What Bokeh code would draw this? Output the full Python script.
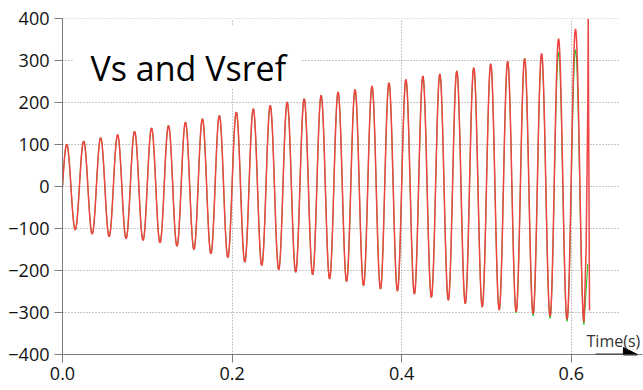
import numpy as np
from bokeh.plotting import figure
from bokeh.models import FixedTicker, Arrow, NormalHead, Label, NumeralTickFormatter
from bokeh.embed import file_html
from bokeh.resources import INLINE

# ---------------- data ----------------
PERIOD = 0.02  # 50 Hz waveform

# positive peak of each cycle (V)
vs_peaks = [100, 108, 116, 123, 131, 139, 145, 153, 161, 169,
            177, 185, 193, 201, 209, 217, 225, 231, 239, 247,
            255, 263, 268, 275, 283, 292, 298, 305, 317, 352, 375]
# negative peak of each cycle (V)
vs_troughs = [-103, -113, -119, -124, -128, -134, -142, -150, -160, -169,
              -180, -188, -198, -204, -210, -220, -226, -236, -244, -249,
              -256, -264, -271, -279, -287, -294, -298, -303, -309, -316, -323]
# final unstable spike of Vs
vs_tail_t = [0.615, 0.6175, 0.6195, 0.6200, 0.6215]
vs_tail_v = [-323, -150, 190, 400, -295]

vsref_peaks = [100, 108, 116, 123, 131, 139, 145, 153, 161, 169,
               177, 185, 193, 201, 209, 217, 225, 231, 239, 247,
               255, 263, 268, 275, 283, 292, 298, 305, 312, 319, 326]
vsref_troughs = [-103, -113, -119, -124, -128, -134, -142, -150, -160, -169,
                 -180, -188, -198, -204, -210, -220, -226, -236, -244, -249,
                 -256, -264, -271, -279, -287, -294, -301, -308, -314, -321, -329]
vsref_tail_t = [0.615, 0.6195]
vsref_tail_v = [-329, -184]

x_ticks = [0.0, 0.2, 0.4, 0.6]
y_ticks = [-400, -300, -200, -100, 0, 100, 200, 300, 400]
title_text = "Vs and Vsref"
x_label = "Time(s)"


def extrema(peaks, troughs):
    t, v = [0.0], [0.0]
    for k, (pk, tr) in enumerate(zip(peaks, troughs)):
        t += [PERIOD * (k + 0.25), PERIOD * (k + 0.75)]
        v += [pk, tr]
    return t, v


def wave(t_ext, v_ext, tail_t, tail_v, n=24):
    ts, vs = [], []
    for i in range(len(t_ext) - 1):
        f = np.linspace(0, 1, n, endpoint=False)
        a, b = v_ext[i], v_ext[i + 1]
        if i == 0:
            seg = b * np.sin(0.5 * np.pi * f)
        else:
            seg = (a + b) / 2 + (a - b) / 2 * np.cos(np.pi * f)
        ts.append(t_ext[i] + f * (t_ext[i + 1] - t_ext[i]))
        vs.append(seg)
    ts.append(np.array(tail_t))
    vs.append(np.array(tail_v))
    return np.concatenate(ts), np.concatenate(vs)


vs_t, vs_v = wave(*extrema(vs_peaks, vs_troughs), vs_tail_t, vs_tail_v)
ref_t, ref_v = wave(*extrema(vsref_peaks, vsref_troughs), vsref_tail_t, vsref_tail_v)

# ---------------- figure ----------------
X_END = 0.684
GRID_END = 0.658
AXIS_COLOR = "#7a7a7a"
GRID_COLOR = "#8f8f8f"
FONT = "Open Sans"

p = figure(width=643, height=390, x_range=(0, X_END), y_range=(-400, 400),
           output_backend="svg", toolbar_location=None,
           min_border_left=62, min_border_right=1,
           min_border_top=18, min_border_bottom=36)
p.outline_line_color = None
p.background_fill_color = "white"
p.border_fill_color = "white"

for ax, ticks, size in ((p.xaxis, x_ticks, "18px"), (p.yaxis, y_ticks, "18px")):
    ax.ticker = FixedTicker(ticks=ticks)
    ax.axis_line_color = AXIS_COLOR
    ax.major_tick_line_color = AXIS_COLOR
    ax.minor_tick_line_color = None
    ax.major_tick_out = 8
    ax.major_tick_in = 0
    ax.major_label_text_font = FONT
    ax.major_label_text_font_size = size
    ax.major_label_text_color = "#111111"
p.xaxis.formatter = NumeralTickFormatter(format="0.0")
p.xaxis.major_label_standoff = 4
p.yaxis.major_label_standoff = 5

p.ygrid.visible = False
p.xgrid.ticker = FixedTicker(ticks=x_ticks[1:])
p.xgrid.grid_line_color = GRID_COLOR
p.xgrid.grid_line_dash = "1 2"

# horizontal dotted grid lines, ending short of the axis arrow
grid_y = y_ticks[1:]
p.segment(x0=[0] * len(grid_y), x1=[GRID_END] * len(grid_y), y0=grid_y, y1=grid_y,
          line_color=GRID_COLOR, line_dash="1 2", line_width=1)

# white box behind the title
p.quad(left=0.012, right=0.281, bottom=233, top=383, fill_color="white", line_color=None)
p.add_layout(Label(x=0.033, y=281, text=title_text, text_font=FONT,
                   text_font_size="34px", text_color="black",
                   text_baseline="alphabetic"))

p.line(ref_t, ref_v, line_color="#1ec81e", line_width=1.1)
p.line(vs_t, vs_v, line_color="#f04444", line_width=1.5)

p.add_layout(Arrow(end=NormalHead(size=14, fill_color="black", line_color="black"),
                   x_start=0.6285, y_start=-400, x_end=0.678, y_end=-400,
                   line_color="#333333", line_width=2))
p.add_layout(Label(x=0.618, y=-368, text=x_label, text_font=FONT,
                   text_font_size="16px", text_color="#333333",
                   text_baseline="alphabetic"))

open("out.html", "w").write(file_html(p, INLINE))
